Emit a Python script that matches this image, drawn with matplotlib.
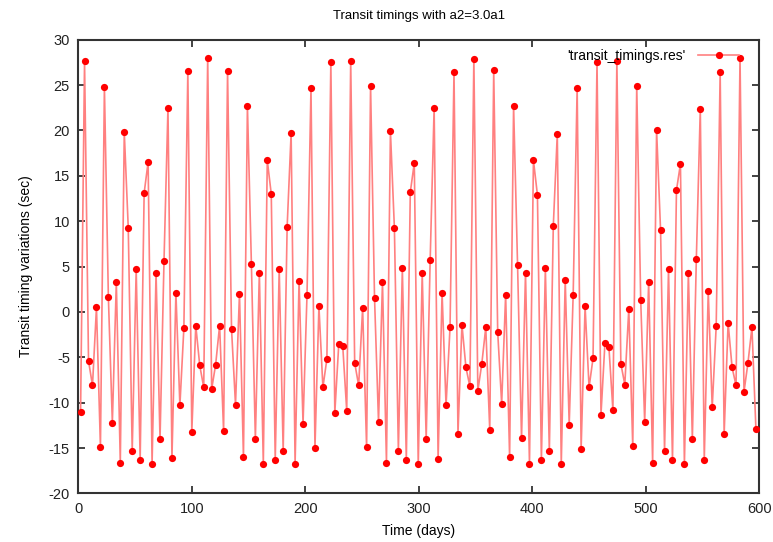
import numpy as np
import matplotlib
matplotlib.use("Agg")
import matplotlib.pyplot as plt

plt.rcParams["font.family"] = ["Liberation Sans", "DejaVu Sans"]
plt.rcParams["axes.unicode_minus"] = False

# transit times (days)
times = [
    2.0, 5.5, 9.0, 12.5, 16.0, 19.5, 23.0, 26.5, 30.0, 33.5,
    37.0, 40.5, 44.0, 47.5, 51.0, 54.5, 58.0, 61.5, 65.0, 68.5,
    72.0, 75.5, 79.0, 82.5, 86.0, 89.5, 93.0, 96.5, 100.0, 103.5,
    107.0, 110.5, 114.0, 117.5, 121.0, 124.5, 128.0, 131.5, 135.0, 138.5,
    142.0, 145.5, 149.0, 152.5, 156.0, 159.5, 163.0, 166.5, 170.0, 173.5,
    177.0, 180.5, 184.0, 187.5, 191.0, 194.5, 198.0, 201.5, 205.0, 208.5,
    212.0, 215.5, 219.0, 222.5, 226.0, 229.5, 233.0, 236.5, 240.0, 243.5,
    247.0, 250.5, 254.0, 257.5, 261.0, 264.5, 268.0, 271.5, 275.0, 278.5,
    282.0, 285.5, 289.0, 292.5, 296.0, 299.5, 303.0, 306.5, 310.0, 313.5,
    317.0, 320.5, 324.0, 327.5, 331.0, 334.5, 338.0, 341.5, 345.0, 348.5,
    352.0, 355.5, 359.0, 362.5, 366.0, 369.5, 373.0, 376.5, 380.0, 383.5,
    387.0, 390.5, 394.0, 397.5, 401.0, 404.5, 408.0, 411.5, 415.0, 418.5,
    422.0, 425.5, 429.0, 432.5, 436.0, 439.5, 443.0, 446.5, 450.0, 453.5,
    457.0, 460.5, 464.0, 467.5, 471.0, 474.5, 478.0, 481.5, 485.0, 488.5,
    492.0, 495.5, 499.0, 502.5, 506.0, 509.5, 513.0, 516.5, 520.0, 523.5,
    527.0, 530.5, 534.0, 537.5, 541.0, 544.5, 548.0, 551.5, 555.0, 558.5,
    562.0, 565.5, 569.0, 572.5, 576.0, 579.5, 583.0, 586.5, 590.0, 593.5,
    597.0,
]

# timing variations (sec)
ttv = [
    -11.0, 27.6, -5.4, -8.1, 0.5, -14.9, 24.8, 1.6, -12.2, 3.3,
    -16.6, 19.8, 9.3, -15.3, 4.7, -16.3, 13.1, 16.5, -16.7, 4.3,
    -14.0, 5.6, 22.5, -16.1, 2.1, -10.3, -1.8, 26.5, -13.2, -1.5,
    -5.9, -8.3, 28.0, -8.5, -5.8, -1.5, -13.1, 26.5, -1.9, -10.2,
    2.0, -16.0, 22.7, 5.3, -14.0, 4.3, -16.7, 16.7, 13.0, -16.3,
    4.7, -15.3, 9.4, 19.7, -16.7, 3.4, -12.3, 1.9, 24.7, -15.0,
    0.6, -8.3, -5.2, 27.5, -11.1, -3.5, -3.8, -10.9, 27.6, -5.6,
    -8.1, 0.4, -14.9, 24.9, 1.5, -12.1, 3.3, -16.6, 19.9, 9.2,
    -15.3, 4.8, -16.3, 13.2, 16.4, -16.8, 4.3, -14.0, 5.7, 22.5,
    -16.2, 2.1, -10.3, -1.7, 26.4, -13.4, -1.4, -6.1, -8.2, 27.9,
    -8.7, -5.7, -1.7, -13.0, 26.6, -2.2, -10.1, 1.9, -16.0, 22.7,
    5.2, -13.9, 4.3, -16.7, 16.7, 12.9, -16.3, 4.8, -15.3, 9.5,
    19.6, -16.8, 3.5, -12.4, 1.9, 24.7, -15.1, 0.6, -8.3, -5.1,
    27.5, -11.3, -3.4, -3.9, -10.8, 27.6, -5.7, -8.0, 0.3, -14.8,
    24.9, 1.3, -12.1, 3.3, -16.6, 20.0, 9.0, -15.3, 4.7, -16.3,
    13.4, 16.3, -16.8, 4.3, -14.0, 5.8, 22.4, -16.3, 2.3, -10.5,
    -1.6, 26.4, -13.5, -1.2, -6.1, -8.1, 28.0, -8.8, -5.6, -1.7,
    -12.9,
]

x_ticks = [0, 100, 200, 300, 400, 500, 600]
y_ticks = [-20, -15, -10, -5, 0, 5, 10, 15, 20, 25, 30]

line_col = "#ff8080"

fig = plt.figure(figsize=(7.73, 5.42), dpi=100)
ax = fig.add_axes([0.1013, 0.0895, 0.881, 0.8374])

ax.plot(times, ttv, color=line_col, lw=1.2, zorder=2)
ax.plot(times, ttv, linestyle="none", marker="o", ms=5.2,
        color="red", markeredgewidth=0, zorder=3)
# legend sample: line + marker, like gnuplot's linespoints
ax.plot([], [], color=line_col, lw=1.2, marker="o", ms=5.2,
        markerfacecolor="red", markeredgewidth=0,
        label="'transit_timings.res'")
ax.legend(loc="upper right", frameon=False, fontsize=10, markerfirst=False,
          handlelength=3.0, borderaxespad=0.3, handletextpad=0.9,
          bbox_to_anchor=(0.985, 1.0))

ax.set_xlim(0, 600)
ax.set_ylim(-20, 30)
ax.set_xticks(x_ticks)
ax.set_yticks(y_ticks)
ax.tick_params(direction="in", length=5, width=1.2, top=True, right=True,
               labelsize=10.5, colors="#222222", pad=6)
for s in ax.spines.values():
    s.set_linewidth(1.5)
    s.set_color("#333333")

ax.set_xlabel("Time (days)", fontsize=10, labelpad=6)
ax.set_ylabel("Transit timing variations (sec)", fontsize=10, labelpad=11)
ax.set_title("Transit timings with a2=3.0a1", fontsize=9.5, pad=15)

fig.savefig("out.png", dpi=100)
